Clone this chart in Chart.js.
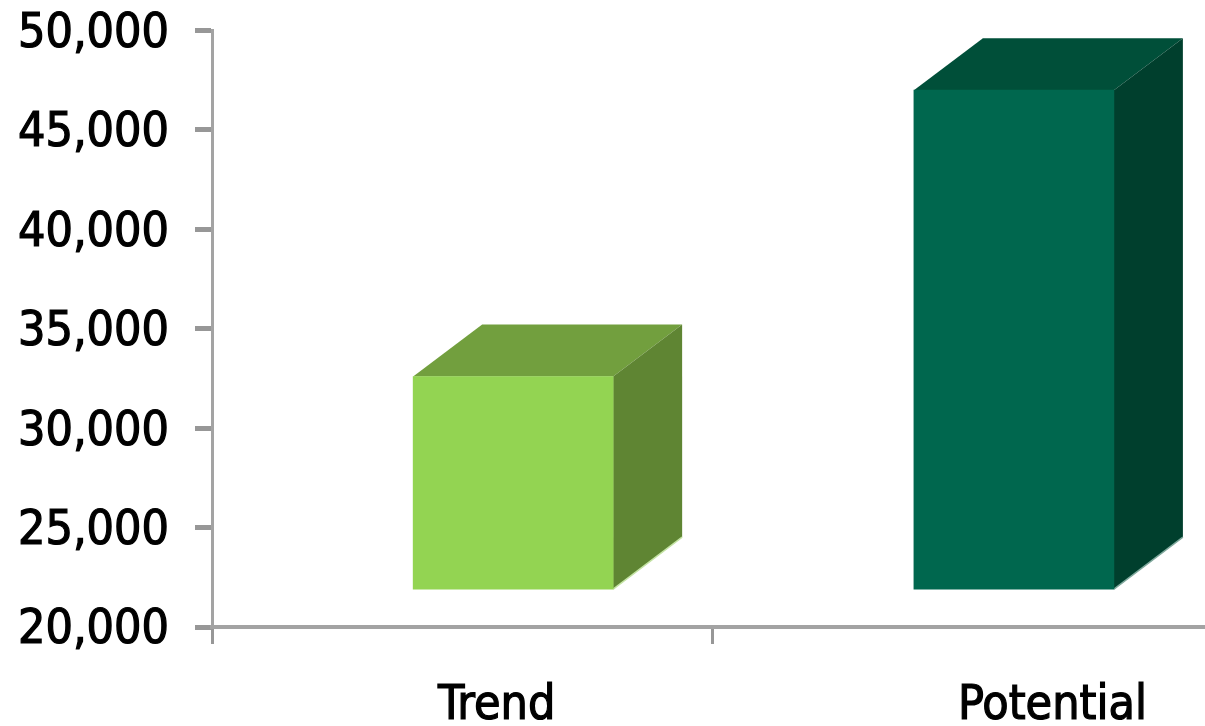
<!DOCTYPE html>
<html>
<head>
<meta charset="utf-8">
<title>Trend vs Potential</title>
<script src="https://cdn.jsdelivr.net/npm/chart.js@4"></script>
<style>
    html, body { margin: 0; padding: 0; background: #fff; overflow: hidden; }
    canvas { display: block; }
</style>
</head>
<body>
<canvas id="chart" width="1205" height="726"></canvas>
<script>
// --- Data ---
const categories = ['Trend', 'Potential'];
const barBase = 21900;
const seriesValues = [32600, 47000];
const yTicks = [20000, 25000, 30000, 35000, 40000, 45000, 50000];

// --- Layout (x axis runs 0..2 in category widths, the picture cuts it off at the right) ---
const barSlots = [0.602, 1.603];
const labelSlots = [0.569, 1.680];
const dividerSlots = [0, 1];
const xEnd = 1.985;

const frontColors = ['#93D452', '#00674E'];
const topColors = ['#729F3E', '#004F39'];
const sideColors = ['#5F8533', '#003F2D'];
const edgeColors = ['#C4E3A4', '#7FA89C'];
const depthX = 69;
const depthY = 52;
const axisColor = '#A3A3A3';
const tickColor = '#979797';
const labelFont = '"DejaVu Sans Condensed", "DejaVu Sans"';

// Top and right faces hang off the real bar elements
const boxFaces = {
    id: 'boxFaces',
    beforeDatasetsDraw(chart) {
        const ctx = chart.ctx;
        chart.getDatasetMeta(0).data.forEach((bar, i) => {
            const left = bar.x - bar.width / 2;
            const right = bar.x + bar.width / 2;
            const top = bar.y;
            const bottom = bar.base;

            ctx.fillStyle = topColors[i];
            ctx.beginPath();
            ctx.moveTo(left, top);
            ctx.lineTo(left + depthX, top - depthY);
            ctx.lineTo(right + depthX, top - depthY);
            ctx.lineTo(right, top);
            ctx.closePath();
            ctx.fill();

            ctx.fillStyle = sideColors[i];
            ctx.beginPath();
            ctx.moveTo(right, top);
            ctx.lineTo(right + depthX, top - depthY);
            ctx.lineTo(right + depthX, bottom - depthY);
            ctx.lineTo(right, bottom);
            ctx.closePath();
            ctx.fill();

            // pale seam on the lower edge of the side face
            ctx.strokeStyle = edgeColors[i];
            ctx.lineWidth = 1.5;
            ctx.beginPath();
            ctx.moveTo(right, bottom);
            ctx.lineTo(right + depthX, bottom - depthY);
            ctx.stroke();
        });
    }
};

new Chart(document.getElementById('chart'), {
    type: 'bar',
    data: {
        datasets: [{
            data: categories.map((name, i) => ({ x: barSlots[i], y: [barBase, seriesValues[i]] })),
            backgroundColor: frontColors,
            barThickness: 200,
            borderWidth: 0
        }]
    },
    plugins: [boxFaces],
    options: {
        responsive: false,
        animation: false,
        devicePixelRatio: 1,
        layout: { padding: { top: 30.5, left: 0, right: 0, bottom: 0 } },
        plugins: { legend: { display: false }, tooltip: { enabled: false } },
        scales: {
            x: {
                type: 'linear',
                offset: false,
                min: 0,
                max: xEnd,
                afterBuildTicks(scale) {
                    scale.ticks = [...dividerSlots, ...labelSlots].sort((a, b) => a - b).map(value => ({ value }));
                },
                afterFit(scale) { scale.height = 99; },
                grid: {
                    offset: false,
                    drawOnChartArea: false,
                    tickLength: 17,
                    tickWidth: 3,
                    tickColor: c => dividerSlots.includes(c.tick.value) ? tickColor : 'rgba(0,0,0,0)'
                },
                border: { color: axisColor, width: 4 },
                ticks: {
                    autoSkip: false,
                    maxRotation: 0,
                    padding: 34,
                    color: '#000',
                    textStrokeColor: '#000',
                    textStrokeWidth: 1.2,
                    font: { family: labelFont, size: 48 },
                    callback: value => {
                        const i = labelSlots.indexOf(value);
                        return i >= 0 ? categories[i] : '';
                    }
                }
            },
            y: {
                min: yTicks[0],
                max: yTicks[yTicks.length - 1],
                afterBuildTicks(scale) {
                    scale.ticks = yTicks.map(value => ({ value }));
                },
                afterFit(scale) {
                    scale.width = 212;
                    scale.paddingTop = 0;
                    scale.paddingBottom = 0;
                },
                grid: {
                    drawOnChartArea: false,
                    tickLength: 17,
                    tickWidth: 5,
                    tickColor: tickColor
                },
                border: { color: axisColor, width: 3 },
                ticks: {
                    padding: 26,
                    color: '#000',
                    textStrokeColor: '#000',
                    textStrokeWidth: 1.2,
                    labelOffset: 4,
                    font: { family: labelFont, size: 48 },
                    callback: value => value.toLocaleString('en-US')
                }
            }
        }
    }
});
</script>
</body>
</html>
